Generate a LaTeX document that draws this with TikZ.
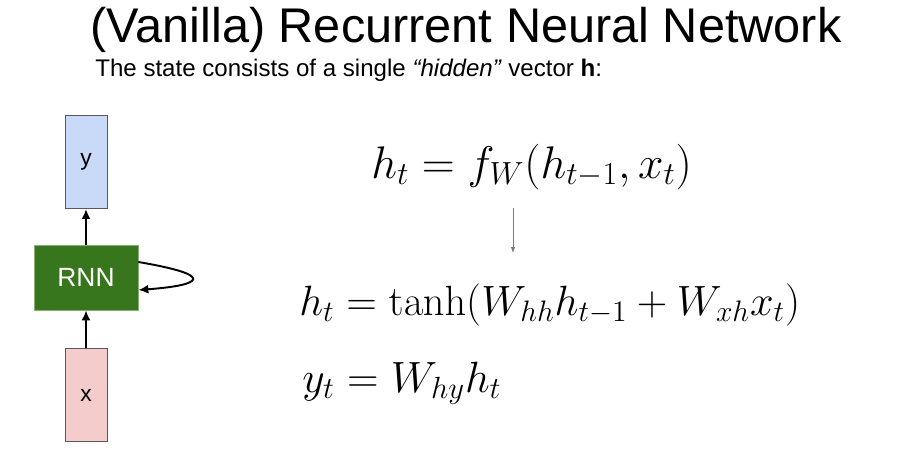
\RequirePackage{fix-cm}
\documentclass[tikz,border=0pt]{standalone}
\usepackage{amsmath,amsfonts,amssymb}
\usepackage[no-math]{fontspec}
\setmainfont{Liberation Sans}
\usepackage{xcolor}
\usepackage{tikz}
\usetikzlibrary{arrows.meta, positioning}
\definecolor{outcol}{RGB}{201,218,248}
\definecolor{incol}{RGB}{244,204,204}
\definecolor{rnncol}{RGB}{56,118,29}
\definecolor{edgecol}{RGB}{89,89,89}
\definecolor{hintcol}{RGB}{120,120,120}
\tikzset{
    vecbox/.style={rectangle, minimum width=0.84cm, minimum height=1.86cm, text centered, draw=edgecol, line width=0.5pt, font=\fontsize{13}{15}\selectfont},
    cell/.style={rectangle, minimum width=2.08cm, minimum height=1.3cm, text centered, fill=rnncol, draw=rnncol!60!white, line width=0.4pt, text=white, font=\fontsize{15}{18}\selectfont},
    eq/.style={inner sep=0pt, anchor=base west, font=\fontsize{24.9}{30}\selectfont},
    flow/.style={-{Latex[length=2mm,width=1.8mm]}, line width=1.1pt},
    hint/.style={-{Latex[length=1.2mm,width=0.9mm]}, line width=0.5pt, color=hintcol}
}
\begin{document}
\begin{tikzpicture}
    \useasboundingbox (0,0) rectangle (17.96,9);
    % Title
    \node[inner sep=0pt, anchor=base, font=\fontsize{27.7}{32}\selectfont] (title) at (9.32,8.14) {(Vanilla) Recurrent Neural Network};
    \node[inner sep=0pt, anchor=base west, font=\fontsize{13.7}{16}\selectfont] (subtitle) at (1.9,7.46) {The state consists of a single \textit{“hidden”} vector \textbf{h}:};

    % RNN unrolled cell
    \node[vecbox, fill=outcol] (ybox) at (1.72,5.76) {y};
    \node[cell] (rnn) at (1.72,3.45) {RNN};
    \node[vecbox, fill=incol] (xbox) at (1.72,1.1) {x};

    \draw[flow] (xbox) -- (rnn);
    \draw[flow] (rnn) -- (ybox);
    \draw[flow] ([yshift=0.31cm]rnn.east) .. controls (4.3,3.5) and (4.1,3.3) .. ([yshift=-0.25cm]rnn.east);

    % Equations
    \node[eq, font=\fontsize{26}{31}\selectfont] (eqstate) at (7.42,5.44) {$h_t = f_W(h_{t-1}, x_t)$};
    \node[eq, font=\fontsize{24.1}{29}\selectfont] (eqhidden) at (5.98,2.7) {$h_t = \tanh(W_{hh}h_{t-1} + W_{xh}x_t)$};
    \node[eq] (eqout) at (6.04,1.16) {$y_t = W_{hy}h_t$};

    \coordinate (hinttop) at (10.26,4.84);
    \coordinate (hintbot) at (10.26,3.94);
    \draw[hint] (hinttop) -- (hintbot);
\end{tikzpicture}
\end{document}
